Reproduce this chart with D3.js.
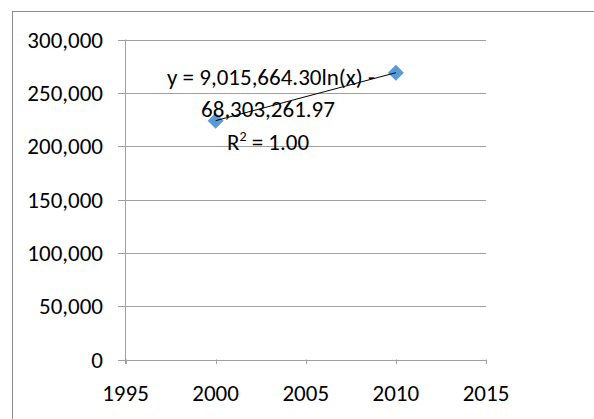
<!DOCTYPE html>
<html><head><meta charset="utf-8">
<script src="https://cdn.jsdelivr.net/npm/d3@7"></script>
<style>body{margin:0;background:#fff}svg{display:block}</style>
</head><body><div id="chart"></div>
<script>
const years = [2000, 2010];
const values = [223923, 268889];
const xTicks = [1995, 2000, 2005, 2010, 2015];
const yTicks = [0, 50000, 100000, 150000, 200000, 250000, 300000];
const eqLines = ["y = 9,015,664.30ln(x) -", "68,303,261.97"];

const W = 594, H = 419;
const svg = d3.select("#chart").append("svg").attr("width", W).attr("height", H);
const font = "Carlito, 'Liberation Sans', Arial, sans-serif";
const fs = 23;

svg.append("rect").attr("x", 12.5).attr("y", 11.5).attr("width", 600).attr("height", 420)
  .attr("fill", "#fff").attr("stroke", "#8c8c8c").attr("stroke-width", 1);

const x = d3.scaleLinear().domain([1995, 2015]).range([125.5, 486]);
const y = d3.scaleLinear().domain([0, 300000]).range([359.5, 39.5]);
const fmt = d3.format(",");

svg.append("g").selectAll("line").data(yTicks).join("line")
  .attr("x1", 118).attr("x2", 486).attr("y1", d => Math.round(y(d)) + 0.5).attr("y2", d => Math.round(y(d)) + 0.5)
  .attr("stroke", "#a0a0a0").attr("stroke-width", 1);
svg.append("line").attr("x1", 125.5).attr("x2", 125.5).attr("y1", y(300000)).attr("y2", 364)
  .attr("stroke", "#a0a0a0");
svg.append("g").selectAll("line").data(xTicks).join("line")
  .attr("x1", d => Math.round(x(d)) + 0.5).attr("x2", d => Math.round(x(d)) + 0.5)
  .attr("y1", y(0)).attr("y2", 364).attr("stroke", "#a0a0a0");

svg.append("g").selectAll("text").data(yTicks).join("text")
  .attr("x", 103).attr("y", d => y(d) + 8).attr("text-anchor", "end")
  .attr("font-family", font).attr("font-size", fs).attr("fill", "#000")
  .text(d => fmt(d));
svg.append("g").selectAll("text").data(xTicks).join("text")
  .attr("x", d => x(d)).attr("y", 401).attr("text-anchor", "middle")
  .attr("font-family", font).attr("font-size", fs).attr("fill", "#000")
  .text(d => d);

const pts = years.map((yr, i) => [yr, values[i]]);
svg.append("g").selectAll("path").data(pts).join("path")
  .attr("d", d3.symbol().type(d3.symbolSquare).size(128))
  .attr("transform", d => `translate(${x(d[0])},${y(d[1])}) rotate(45)`)
  .attr("fill", "#5b9bd5");

svg.append("path").datum(pts)
  .attr("d", d3.line().x(d => x(d[0])).y(d => y(d[1])))
  .attr("fill", "none").attr("stroke", "#000").attr("stroke-width", 1);

const eq = svg.append("g").attr("font-family", font).attr("font-size", fs).attr("fill", "#000").attr("text-anchor", "middle");
eq.append("text").attr("x", 271).attr("y", 85).text(eqLines[0]);
eq.append("text").attr("x", 268).attr("y", 117).text(eqLines[1]);
const r = eq.append("text").attr("x", 268).attr("y", 150);
r.append("tspan").text("R");
r.append("tspan").attr("dy", -9).attr("font-size", 14).text("2");
r.append("tspan").attr("dy", 9).text(" = 1.00");
</script></body></html>
